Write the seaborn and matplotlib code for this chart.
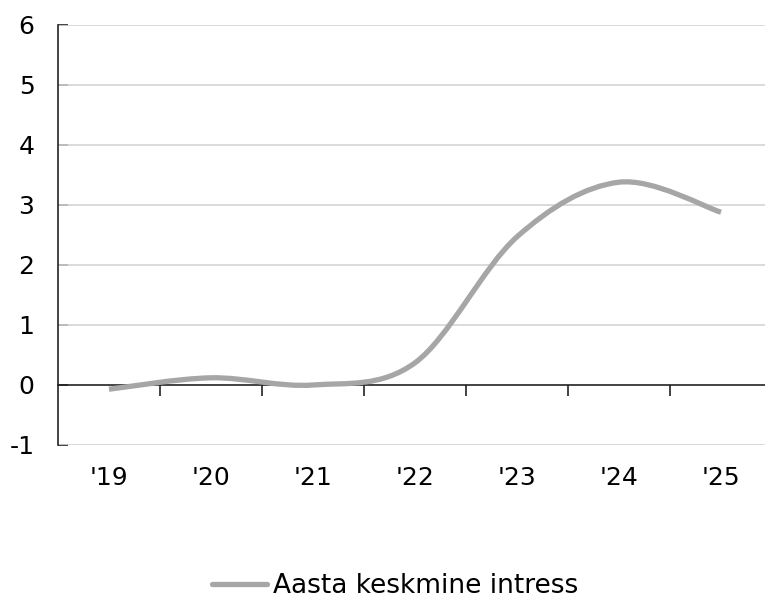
import numpy as np
import matplotlib
matplotlib.use("Agg")
import matplotlib.pyplot as plt
import seaborn as sns
from matplotlib.path import Path
from matplotlib.patches import PathPatch
from matplotlib.lines import Line2D

years = ["'19", "'20", "'21", "'22", "'23", "'24", "'25"]
rate = [-0.07, 0.12, 0.0, 0.37, 2.47, 3.38, 2.88]
series_name = "Aasta keskmine intress"
y_ticks = [-1, 0, 1, 2, 3, 4, 5, 6]

sns.set_theme(style="white")
plt.rcParams["font.family"] = ["DejaVu Sans"]

line_color = "#a6a6a6"
grid_color = "#d4d4d4"

fig = plt.figure(figsize=(7.65, 6.03), dpi=100)
ax = fig.add_axes([58 / 765, 1 - 445 / 603, 714 / 765, 420 / 603])

# smoothed line like Excel: cubic bezier segments through the points
x = np.arange(len(years), dtype=float)
y = np.array(rate)
pts = np.column_stack([x, y])
verts = [pts[0]]
codes = [Path.MOVETO]
for i in range(len(pts) - 1):
    p0 = pts[max(i - 1, 0)]
    p1 = pts[i]
    p2 = pts[i + 1]
    p3 = pts[min(i + 2, len(pts) - 1)]
    c1 = p1 + (p2 - p0) / 6
    c2 = p2 - (p3 - p1) / 6
    verts += [c1, c2, p2]
    codes += [Path.CURVE4] * 3
ax.add_patch(PathPatch(Path(verts, codes), facecolor="none", edgecolor=line_color,
                       lw=3.8, capstyle="butt", zorder=4))

ax.set_xlim(-0.5, len(years) - 0.5)
ax.set_ylim(-1, 6)

for t in y_ticks:
    if t != 0:
        ax.axhline(t, color=grid_color, lw=1.2, zorder=1)

ax.spines["top"].set_visible(False)
ax.spines["right"].set_visible(False)
ax.spines["left"].set_color("#222222")
ax.spines["left"].set_linewidth(1.2)
ax.spines["bottom"].set_position(("data", 0))
ax.spines["bottom"].set_color("#222222")
ax.spines["bottom"].set_linewidth(1.2)
ax.spines["bottom"].set_zorder(3)

ax.set_yticks(y_ticks)
ax.set_yticklabels([str(t) for t in y_ticks])
ax.tick_params(axis="y", which="major", direction="in", length=7, width=1.2,
               color="#222222", pad=17, labelsize=18, labelcolor="black", left=True)

ax.set_xticks(x)
ax.set_xticklabels(years)
ax.set_xticks(np.arange(0.5, len(years) - 1, 1.0), minor=True)
ax.tick_params(axis="x", which="major", length=0, pad=58, labelsize=18, labelcolor="black")
ax.tick_params(axis="x", which="minor", direction="out", length=8, width=1.2,
               color="#222222", bottom=True)

handle = Line2D([0], [0], color=line_color, lw=3.8)
fig.legend([handle], [series_name], loc="center", bbox_to_anchor=(395 / 765, 1 - 586 / 603),
           frameon=False, fontsize=19, handlelength=2.1, handletextpad=0.2,
           borderpad=0.1, labelcolor="black")

fig.savefig("out.png", dpi=100)
